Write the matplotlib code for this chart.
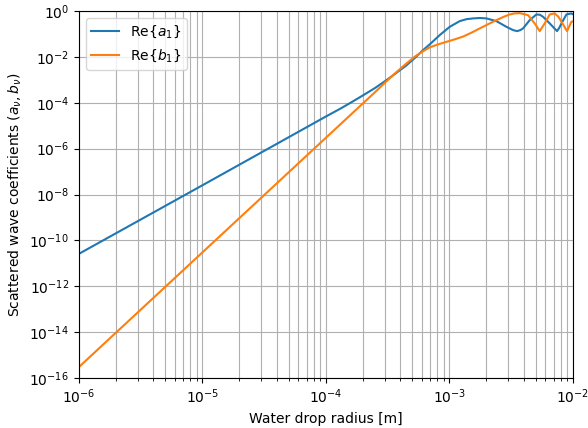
import numpy as np
import matplotlib
matplotlib.use("Agg")
import matplotlib.pyplot as plt
from matplotlib.ticker import LogLocator, NullLocator

# Data (log10 of radius, log10 of coefficient)
a1_logx = [-6.0, -5.0, -4.0, -3.887, -3.8, -3.7, -3.6, -3.508, -3.43, -3.35, -3.28,
           -3.212, -3.158, -3.077, -2.996, -2.915, -2.86, -2.807, -2.75, -2.699,
           -2.618, -2.537, -2.483, -2.451, -2.425, -2.402, -2.348, -2.294, -2.265,
           -2.240, -2.186, -2.127, -2.108, -2.091, -2.051, -2.011, -2.0]
a1_logy = [-10.59, -7.60, -4.60, -4.27, -4.0, -3.68, -3.35, -3.01, -2.70, -2.38, -2.05,
           -1.70, -1.45, -1.046, -0.684, -0.436, -0.35, -0.318, -0.30, -0.318,
           -0.436, -0.684, -0.828, -0.872, -0.83, -0.754, -0.392, -0.144, -0.16,
           -0.248, -0.536, -0.872, -0.72, -0.536, -0.144, -0.10, -0.13]

b1_logx = [-6.0, -5.0, -4.0, -3.6, -3.508, -3.43, -3.35,
           -3.28, -3.212, -3.158, -3.09, -3.023, -2.955, -2.888, -2.82, -2.753,
           -2.685, -2.618, -2.56, -2.51, -2.47, -2.429, -2.362, -2.308, -2.267,
           -2.227, -2.186, -2.146, -2.115, -2.091, -2.046, -2.011, -2.0]
b1_logy = [-15.53, -10.53, -5.53, -3.53, -3.06, -2.67, -2.30,
           -1.99, -1.75, -1.58, -1.45, -1.34, -1.23, -1.11, -0.94, -0.754,
           -0.57, -0.392, -0.25, -0.144, -0.10, -0.087, -0.174, -0.536, -0.872,
           -0.536, -0.144, -0.10, -0.25, -0.466, -0.872, -0.466, -0.45]

a1_x = 10.0 ** np.array(a1_logx)
a1_y = 10.0 ** np.array(a1_logy)
b1_x = 10.0 ** np.array(b1_logx)
b1_y = 10.0 ** np.array(b1_logy)

fig = plt.figure(figsize=(5.88, 4.28), dpi=100)
ax = fig.add_axes([0.134, 0.117, 0.840, 0.857])

ax.plot(a1_x, a1_y, color="#1f77b4", lw=1.5, label=r"Re$\{a_1\}$")
ax.plot(b1_x, b1_y, color="#ff7f0e", lw=1.5, label=r"Re$\{b_1\}$")

ax.set_xscale("log")
ax.set_yscale("log")
ax.set_xlim(1e-6, 1e-2)
ax.set_ylim(1e-16, 1e0)
ax.set_yticks([10.0 ** k for k in range(-16, 1, 2)])
ax.yaxis.set_minor_locator(NullLocator())
ax.xaxis.set_minor_locator(LogLocator(base=10, subs=np.arange(2, 10)))

ax.grid(True, which="major", color="#b0b0b0", lw=0.8)
ax.grid(True, which="minor", axis="x", color="#b0b0b0", lw=0.8)

ax.set_xlabel("Water drop radius [m]")
ax.set_ylabel(r"Scattered wave coefficients $(a_\nu,b_\nu)$")
ax.legend(loc="upper left")

fig.savefig("out.png", dpi=100)
